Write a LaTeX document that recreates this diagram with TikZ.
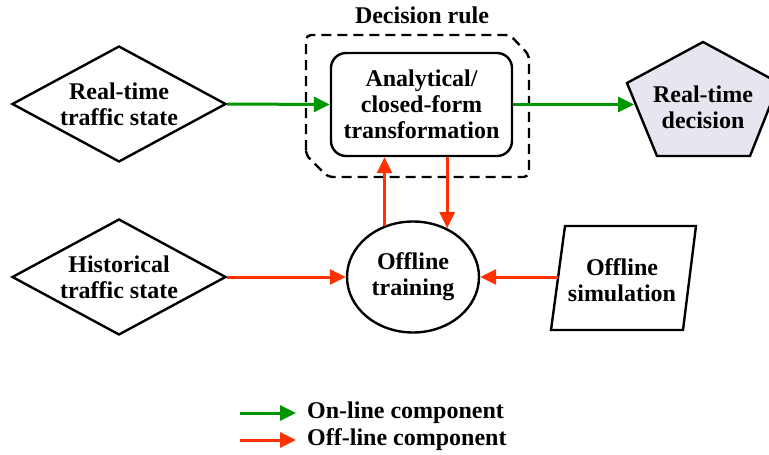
\documentclass[tikz,border=0pt]{standalone}
\usepackage{fontspec}
\setmainfont{Liberation Serif}
\usetikzlibrary{arrows.meta,shapes.geometric}
\definecolor{ongreen}{RGB}{0,150,0}
\definecolor{offred}{RGB}{255,50,0}
\definecolor{pentafill}{RGB}{233,229,240}
\begin{document}
\begin{tikzpicture}[x=1pt,y=-1pt,
  txt/.style={font=\fontsize{24}{26}\selectfont\bfseries, align=center, inner sep=0pt},
  shapeline/.style={draw=black, line width=2.4pt},
  onarrow/.style={draw=ongreen, line width=3pt, -{Triangle[length=16pt,width=15pt]}},
  offarrow/.style={draw=offred, line width=3pt, -{Triangle[length=16pt,width=15pt]}},
  dia/.style={diamond, shapeline, minimum width=214pt, minimum height=116pt, inner sep=0pt},
  dashbox/.style={line width=2.4pt, dash pattern=on 10pt off 6pt, rounded corners=5pt}]
\useasboundingbox (0,0) rectangle (769,455);

% decision rule group
\draw[dashbox] (306,155) -- (306,35) -- (510,35) -- (529,55) -- (529,177) -- (328,177) -- cycle;
\node[txt] (drlabel) at (422,15) {Decision rule};
\node[txt, shapeline, rounded corners=15pt, minimum width=181pt, minimum height=103pt] (rule) at (421.5,104.5) {Analytical/\\closed-form\\transformation};

% inputs
\node[dia, label={[txt]center:Real-time\\traffic state}] (rts) at (119,104) {};
\node[dia, label={[txt]center:Historical\\traffic state}] (hts) at (119,277) {};

% offline training
\node[ellipse, shapeline, minimum width=132pt, minimum height=111pt, inner sep=0pt, txt] (train) at (413,277) {Offline\\training};

% real-time decision pentagon
\draw[shapeline, fill=pentafill] (703,42) -- (779,83) -- (750,156) -- (657,156) -- (627,83) -- cycle;
\node[txt] (dec) at (703,107) {Real-time\\decision};
\coordinate (decin) at (634,104.5);

% offline simulation parallelogram
\draw[shapeline, line join=miter] (565,226) -- (696,226) -- (683,330) -- (551,330) -- cycle;
\node[txt] (sim) at (622,280) {Offline\\simulation};
\coordinate (simout) at (558,277);

% connectors
\draw[onarrow] (rts.east) -- (rule.west);
\draw[onarrow] (rule.east) -- (decin);
\draw[offarrow] (hts.east) -- (train.west);
\draw[offarrow] (simout) -- (train.east);
\draw[offarrow] (train.119) -- (train.119 |- rule.south);
\draw[offarrow] (train.55 |- rule.south) -- (train.55);

% legend
\coordinate (lg1) at (240,413);
\coordinate (lg2) at (240,440);
\node[txt, anchor=west] (leg1) at (307,413) {On-line component};
\node[txt, anchor=west] (leg2) at (307,440) {Off-line component};
\draw[onarrow, shorten >=11pt] (lg1) -- (leg1.west);
\draw[offarrow, shorten >=11pt] (lg2) -- (leg2.west);
\end{tikzpicture}
\end{document}
